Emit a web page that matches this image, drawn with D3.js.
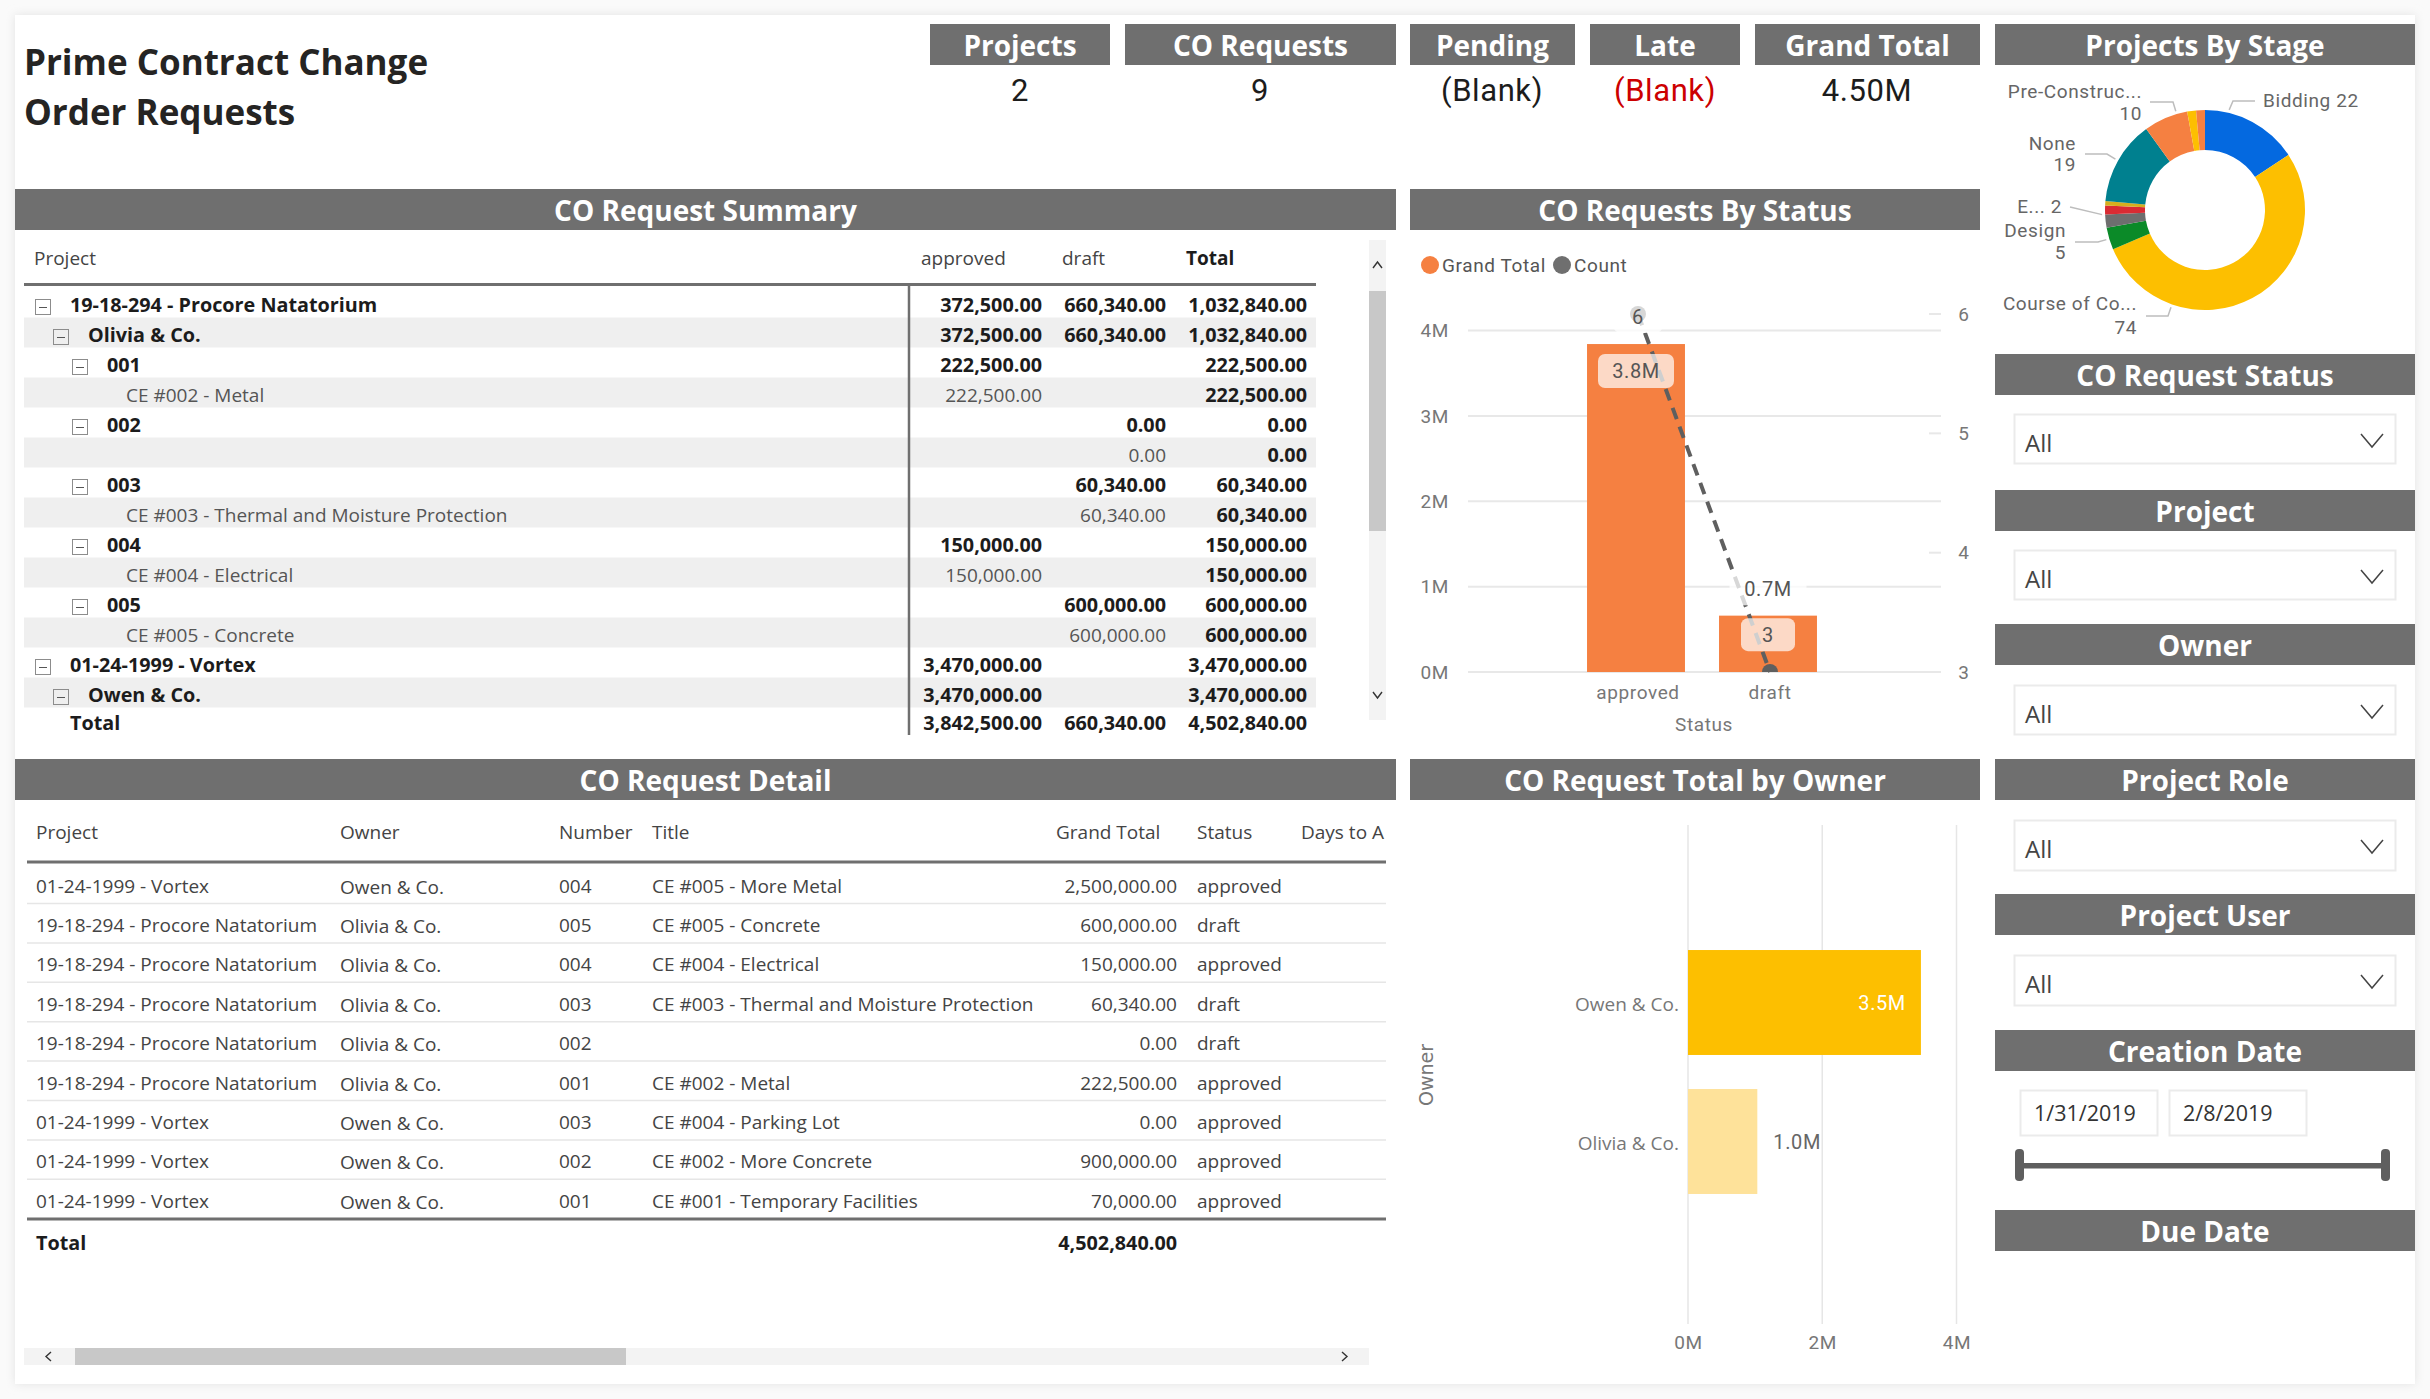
<!DOCTYPE html>
<html>
<head>
<meta charset="utf-8">
<script src="https://cdn.jsdelivr.net/npm/d3@7"></script>
<style>
  html, body { margin: 0; padding: 0; background: #fafafa; }
  svg { display: block; }
  text { font-family: "Open Sans", sans-serif; }
  .din { font-family: Roboto, sans-serif; letter-spacing: 0.6px; }
</style>
</head>
<body>
<svg id="root" width="2430" height="1399"></svg>
<script>
// header strips: [title, x, y, w, h]
const headerStrips = [
  ['Projects', 930, 24, 180, 41],
  ['CO Requests', 1125, 24, 271, 41],
  ['Pending', 1410, 24, 165, 41],
  ['Late', 1590, 24, 150, 41],
  ['Grand Total', 1755, 24, 225, 41],
  ['Projects By Stage', 1995, 24, 420, 41],
  ['CO Request Summary', 15, 189, 1381, 41],
  ['CO Requests By Status', 1410, 189, 570, 41],
  ['CO Request Status', 1995, 354, 420, 41],
  ['Project', 1995, 490, 420, 41],
  ['Owner', 1995, 624, 420, 41],
  ['CO Request Detail', 15, 759, 1381, 41],
  ['CO Request Total by Owner', 1410, 759, 570, 41],
  ['Project Role', 1995, 759, 420, 41],
  ['Project User', 1995, 894, 420, 41],
  ['Creation Date', 1995, 1030, 420, 41],
  ['Due Date', 1995, 1210, 420, 41],
];
const cardLabels = ['2', '9', '(Blank)', '(Blank)', '4.50M'];

// summary matrix
const matrixRows = [
  ['19-18-294 - Procore Natatorium', 0, 372500, 660340, 1032840],
  ['Olivia & Co.', 1, 372500, 660340, 1032840],
  ['001', 2, 222500, null, 222500],
  ['CE #002 - Metal', 3, 222500, null, 222500],
  ['002', 2, null, 0, 0],
  ['', 3, null, 0, 0],
  ['003', 2, null, 60340, 60340],
  ['CE #003 - Thermal and Moisture Protection', 3, null, 60340, 60340],
  ['004', 2, 150000, null, 150000],
  ['CE #004 - Electrical', 3, 150000, null, 150000],
  ['005', 2, null, 600000, 600000],
  ['CE #005 - Concrete', 3, null, 600000, 600000],
  ['01-24-1999 - Vortex', 0, 3470000, null, 3470000],
  ['Owen & Co.', 1, 3470000, null, 3470000],
];
const matrixTotal = ['Total', 3842500, 660340, 4502840];

// detail table
const detailColumns = ['Project', 'Owner', 'Number', 'Title', 'Grand Total', 'Status', 'Days to A'];
const detailRows = [
  ['01-24-1999 - Vortex', 'Owen & Co.', '004', 'CE #005 - More Metal', 2500000, 'approved'],
  ['19-18-294 - Procore Natatorium', 'Olivia & Co.', '005', 'CE #005 - Concrete', 600000, 'draft'],
  ['19-18-294 - Procore Natatorium', 'Olivia & Co.', '004', 'CE #004 - Electrical', 150000, 'approved'],
  ['19-18-294 - Procore Natatorium', 'Olivia & Co.', '003', 'CE #003 - Thermal and Moisture Protection', 60340, 'draft'],
  ['19-18-294 - Procore Natatorium', 'Olivia & Co.', '002', '', 0, 'draft'],
  ['19-18-294 - Procore Natatorium', 'Olivia & Co.', '001', 'CE #002 - Metal', 222500, 'approved'],
  ['01-24-1999 - Vortex', 'Owen & Co.', '003', 'CE #004 - Parking Lot', 0, 'approved'],
  ['01-24-1999 - Vortex', 'Owen & Co.', '002', 'CE #002 - More Concrete', 900000, 'approved'],
  ['01-24-1999 - Vortex', 'Owen & Co.', '001', 'CE #001 - Temporary Facilities', 70000, 'approved'],
];
const detailTotal = 4502840;

// combo chart
const statusNames = ['approved', 'draft'];
const statusTotals = [3842500, 660340];
const statusCounts = [6, 3];

// donut
const stageNames = ['Bidding', 'Course of Construction', 'Design', 'Other 1', 'E...', 'Other 2', 'None', 'Pre-Construction', 'Other 3', 'Other 4'];
const stageValues = [22, 74, 5, 3, 2, 1, 19, 10, 2, 2];
const stageColors = ['#0469e0', '#fdbf00', '#0b8a28', '#6e6e6e', '#d92b33', '#d6ae1e', '#00808f', '#f58041', '#fdbf00', '#f58041'];

// owner bars
const ownerNames = ['Owen & Co.', 'Olivia & Co.'];
const ownerTotals = [3470000, 1032840];
const ownerColors = ['#fdbf00', '#fee29a'];

const slicerBoxes = [414, 550, 685, 820, 955];
const slicerValue = 'All';
const creationDates = ['1/31/2019', '2/8/2019'];

const svg = d3.select('#root');
const money = d3.format(',.2f');
const millions = d => `${(d / 1e6).toFixed(1)}M`;
const GREY = '#6f6f6f';
const INK = '#444';
const BOLD_INK = '#1c1c1c';

// page
const defs = svg.append('defs');
const blur = defs.append('filter').attr('id', 'soft').attr('x', '-2%').attr('y', '-2%').attr('width', '104%').attr('height', '104%');
blur.append('feGaussianBlur').attr('stdDeviation', 5);
svg.append('rect').attr('x', 15).attr('y', 15).attr('width', 2400).attr('height', 1369).attr('fill', '#e2e2e2').attr('filter', 'url(#soft)');
svg.append('rect').attr('x', 15).attr('y', 15).attr('width', 2400).attr('height', 1369).attr('fill', '#fff');

const txt = (g, x, y, s, opts = {}) => g.append('text')
  .attr('x', x).attr('y', y).attr('dy', '0.35em')
  .attr('text-anchor', opts.anchor || 'start')
  .attr('font-size', opts.size || 19)
  .attr('font-weight', opts.weight || 400)
  .attr('fill', opts.fill || INK)
  .attr('class', opts.cls || null)
  .text(s);

// title
txt(svg, 24, 63, 'Prime Contract Change', { size: 35, weight: 700, fill: '#252423' });
txt(svg, 24, 113, 'Order Requests', { size: 35, weight: 700, fill: '#252423' });

// grey header strips
headerStrips.forEach(([title, x, y, w, h]) => {
  svg.append('rect').attr('x', x).attr('y', y).attr('width', w).attr('height', h).attr('fill', GREY);
  txt(svg, x + w / 2, y + h / 2 + 2, title, { anchor: 'middle', size: 28, weight: 700, fill: '#fff' });
});

// KPI cards
[1020, 1260, 1492, 1665, 1867].forEach((x, i) => {
  txt(svg, x, 90, cardLabels[i], { anchor: 'middle', size: 31, cls: 'din', fill: i === 3 ? '#cc0000' : '#1c1c1c' });
});

// --- summary matrix
const matrix = svg.append('g');
const rowY = d3.scaleLinear().domain([0, 1]).range([305, 335]);
const indent = [70, 88, 107, 126];
const colRight = [1042, 1166, 1307];
const BOLD_SIZE = 19.8;

matrixRows.forEach((r, i) => {
  if (i % 2) matrix.append('rect').attr('x', 24).attr('y', rowY(i) - 17.5).attr('width', 1292).attr('height', 30).attr('fill', '#efefef');
});
txt(matrix, 34, 258, 'Project');
txt(matrix, 921, 258, 'approved');
txt(matrix, 1062, 258, 'draft');
txt(matrix, 1186, 258, 'Total', { weight: 700, fill: BOLD_INK });
matrix.append('line').attr('x1', 24).attr('x2', 1316).attr('y1', 284.5).attr('y2', 284.5).attr('stroke', GREY).attr('stroke-width', 3);
matrix.append('line').attr('x1', 909).attr('x2', 909).attr('y1', 285).attr('y2', 735).attr('stroke', GREY).attr('stroke-width', 2.5);

matrixRows.forEach(([name, level, a, d, t], i) => {
  const y = rowY(i);
  const leaf = level === 3;
  const style = leaf
    ? { fill: '#555' }
    : { weight: 700, fill: BOLD_INK, size: BOLD_SIZE };
  if (!leaf) {
    const bx = indent[level] - 35;
    matrix.append('rect').attr('x', bx + 0.5).attr('y', y - 5.5).attr('width', 15).attr('height', 15)
      .attr('fill', 'none').attr('stroke', '#8c8c8c').attr('stroke-width', 1);
    matrix.append('line').attr('x1', bx + 4).attr('x2', bx + 12).attr('y1', y + 2.5).attr('y2', y + 2.5).attr('stroke', '#555');
  }
  txt(matrix, indent[level], y, name, style);
  [a, d, t].forEach((v, j) => {
    if (v === null) return;
    const bold = !leaf || j === 2;
    txt(matrix, colRight[j], y, money(v), { anchor: 'end', weight: bold ? 700 : 400, fill: bold ? BOLD_INK : '#555', size: bold ? BOLD_SIZE : 19 });
  });
});
txt(matrix, 70, 723, matrixTotal[0], { weight: 700, fill: BOLD_INK, size: BOLD_SIZE });
matrixTotal.slice(1).forEach((v, j) => txt(matrix, colRight[j], 723, money(v), { anchor: 'end', weight: 700, fill: BOLD_INK, size: BOLD_SIZE }));

// vertical scrollbar
matrix.append('rect').attr('x', 1369).attr('y', 240).attr('width', 17).attr('height', 480).attr('fill', '#f3f3f3');
matrix.append('rect').attr('x', 1369).attr('y', 291).attr('width', 17).attr('height', 240).attr('fill', '#c8c8c8');
matrix.append('path').attr('d', 'M1373 268l4.5-6l4.5 6').attr('fill', 'none').attr('stroke', '#333').attr('stroke-width', 1.4);
matrix.append('path').attr('d', 'M1373 692l4.5 6l4.5-6').attr('fill', 'none').attr('stroke', '#333').attr('stroke-width', 1.4);

// --- detail table
const detail = svg.append('g');
const detailX = [36, 340, 559, 652, 1177, 1197];
const detailHeadX = [36, 340, 559, 652, 1056, 1197, 1301];
const detailY = d3.scaleLinear().domain([0, 1]).range([886, 925.4]);

const detailClip = defs.append('clipPath').attr('id', 'detail-clip');
detailClip.append('rect').attr('x', 24).attr('y', 810).attr('width', 1362).attr('height', 500);
detail.attr('clip-path', 'url(#detail-clip)');

detailColumns.forEach((c, i) => txt(detail, detailHeadX[i], 832, c));
detail.append('line').attr('x1', 27).attr('x2', 1386).attr('y1', 862).attr('y2', 862).attr('stroke', GREY).attr('stroke-width', 3);
detailRows.forEach((r, i) => {
  r.forEach((v, j) => {
    if (j === 4) txt(detail, detailX[j], detailY(i), money(v), { anchor: 'end' });
    else txt(detail, detailX[j], detailY(i) + (j === 1 ? 1 : 0), v);
  });
  if (i < detailRows.length - 1) {
    detail.append('line').attr('x1', 27).attr('x2', 1386).attr('y1', detailY(i) + 17.5).attr('y2', detailY(i) + 17.5).attr('stroke', '#e6e6e6').attr('stroke-width', 1.5);
  }
});
detail.append('line').attr('x1', 27).attr('x2', 1386).attr('y1', 1219).attr('y2', 1219).attr('stroke', GREY).attr('stroke-width', 3);
txt(detail, 36, 1243, 'Total', { weight: 700, fill: BOLD_INK, size: BOLD_SIZE });
txt(detail, 1177, 1243, money(detailTotal), { anchor: 'end', weight: 700, fill: BOLD_INK, size: BOLD_SIZE });

// horizontal scrollbar
svg.append('rect').attr('x', 24).attr('y', 1348).attr('width', 1345).attr('height', 17).attr('fill', '#f3f3f3');
svg.append('rect').attr('x', 75).attr('y', 1348).attr('width', 551).attr('height', 17).attr('fill', '#c8c8c8');
svg.append('path').attr('d', 'M51 1352l-5 4.5l5 4.5').attr('fill', 'none').attr('stroke', '#333').attr('stroke-width', 1.4);
svg.append('path').attr('d', 'M1342 1352l5 4.5l-5 4.5').attr('fill', 'none').attr('stroke', '#333').attr('stroke-width', 1.4);

// --- combo chart
const combo = svg.append('g');
const xStatus = d3.scaleBand().domain(statusNames).range([1571, 1835]).paddingInner(0.258).paddingOuter(0.129);
const yTotal = d3.scaleLinear().domain([0, 4e6]).range([672, 330.6]);
const yCount = d3.scaleLinear().domain([3, 6]).range([672, 314]);
const statusMid = d => xStatus(d) + xStatus.bandwidth() / 2;

[['Grand Total', 1430, 1442, '#f58041'], ['Count', 1562, 1574, GREY]].forEach(([s, cx, tx, c]) => {
  combo.append('circle').attr('cx', cx).attr('cy', 265).attr('r', 9).attr('fill', c);
  txt(combo, tx, 265, s, { size: 19, fill: '#555', cls: 'din' });
});

const yAxisL = d3.axisLeft(yTotal).tickValues([0, 1e6, 2e6, 3e6, 4e6]).tickFormat(d => `${d / 1e6}M`).tickSize(0).tickPadding(0);
const gL = combo.append('g').attr('transform', 'translate(1449,0)').call(yAxisL);
gL.select('.domain').remove();
gL.selectAll('text').attr('class', 'din').attr('font-size', 19).attr('fill', '#777').attr('font-family', null);

combo.append('g').selectAll('line').data(yTotal.ticks(4)).join('line')
  .attr('x1', 1468).attr('x2', 1941)
  .attr('y1', d => yTotal(d)).attr('y2', d => yTotal(d))
  .attr('stroke', '#e8e8e8').attr('stroke-width', 2);

const yAxisR = d3.axisRight(yCount).tickValues([3, 4, 5, 6]).tickFormat(d3.format('d')).tickSize(0).tickPadding(0);
const gR = combo.append('g').attr('transform', 'translate(1964,0)').call(yAxisR);
gR.select('.domain').remove();
gR.selectAll('text').attr('class', 'din').attr('text-anchor', 'middle').attr('font-size', 19).attr('fill', '#777').attr('font-family', null);
combo.append('g').selectAll('line').data([4, 5, 6]).join('line')
  .attr('x1', 1929).attr('x2', 1941)
  .attr('y1', d => yCount(d)).attr('y2', d => yCount(d))
  .attr('stroke', '#e8e8e8').attr('stroke-width', 2);

combo.append('g').selectAll('rect').data(statusNames).join('rect')
  .attr('x', d => xStatus(d) - 1)
  .attr('width', xStatus.bandwidth())
  .attr('y', (d, i) => yTotal(statusTotals[i]))
  .attr('height', (d, i) => yTotal(0) - yTotal(statusTotals[i]))
  .attr('fill', '#f58041');

const countLine = d3.line().x(d => statusMid(d) + 1).y((d, i) => yCount(statusCounts[i]));
combo.append('path').datum(statusNames).attr('d', countLine)
  .attr('fill', 'none').attr('stroke', '#5f5f5f').attr('stroke-width', 4).attr('stroke-dasharray', '12 8');

const comboClip = defs.append('clipPath').attr('id', 'combo-clip');
comboClip.append('rect').attr('x', 1468).attr('y', 300).attr('width', 473).attr('height', 372);
combo.append('g').attr('clip-path', 'url(#combo-clip)').selectAll('circle').data(statusNames).join('circle')
  .attr('cx', d => statusMid(d) + 1).attr('cy', (d, i) => yCount(statusCounts[i])).attr('r', 8).attr('fill', '#5f5f5f');

const labelBox = (cx, cy, w, h, s, boxFill) => {
  combo.append('rect').attr('x', cx - w / 2).attr('y', cy - h / 2).attr('width', w).attr('height', h).attr('rx', 7)
    .attr('fill', boxFill);
  txt(combo, cx, cy, s, { anchor: 'middle', size: 20, fill: '#555', cls: 'din' });
};
labelBox(statusMid('approved') - 1, yTotal(statusTotals[0]) + 27, 76, 34, millions(statusTotals[0]), 'rgba(255,255,255,0.7)');
labelBox(statusMid('draft') - 1, yTotal(statusTotals[1]) + 19, 54, 33, String(statusCounts[1]), 'rgba(255,255,255,0.7)');
labelBox(statusMid('draft') - 1, yTotal(statusTotals[1]) - 27, 77, 33, millions(statusTotals[1]), 'rgba(255,255,255,0.75)');
labelBox(statusMid('approved') + 1, yCount(statusCounts[0]) + 3, 49, 32, String(statusCounts[0]), 'rgba(255,255,255,0.75)');

statusNames.forEach(d => txt(combo, statusMid(d) + 1, 692, d, { anchor: 'middle', size: 19, fill: '#777', cls: 'din' }));
txt(combo, 1704, 724, 'Status', { anchor: 'middle', size: 19, fill: '#777', cls: 'din' });

// --- donut
const donut = svg.append('g').attr('transform', 'translate(2205,210)');
const pie = d3.pie().sort(null).value(d => d);
const arc = d3.arc().innerRadius(60).outerRadius(100);
const slices = pie(stageValues);
donut.selectAll('path').data(slices).join('path')
  .attr('d', arc).attr('fill', (d, i) => stageColors[i]);

// along = how far through the slice the leader line starts
const stageCallouts = [
  { i: 0, along: 0.24, lines: ['Bidding 22'], anchor: 'start', tx: 2263, ty: [100], elbow: [2233, 101], end: [2255, 101] },
  { i: 1, along: 0.75, lines: ['Course of Co...', '74'], anchor: 'end', tx: 2137, ty: [303, 327], elbow: [2168, 316], end: [2146, 316] },
  { i: 2, along: 0.5, lines: ['Design', '5'], anchor: 'end', tx: 2066, ty: [230, 252], elbow: [2098, 242], end: [2075, 242] },
  { i: 4, along: 0.0, lines: ['E... 2'], anchor: 'end', tx: 2062, ty: [206], elbow: null, end: [2070, 207] },
  { i: 6, along: 0.5, lines: ['None', '19'], anchor: 'end', tx: 2076, ty: [143, 164], elbow: [2107, 154], end: [2085, 154] },
  { i: 7, along: 0.76, lines: ['Pre-Construc...', '10'], anchor: 'end', tx: 2142, ty: [91, 113], elbow: [2173, 102], end: [2150, 102] },
];
stageCallouts.forEach(c => {
  const s = slices[c.i];
  const angle = s.startAngle + (s.endAngle - s.startAngle) * c.along;
  const start = [2205 + 103 * Math.sin(angle), 210 - 103 * Math.cos(angle)];
  const pts = c.elbow ? [start, c.elbow, c.end] : [start, c.end];
  svg.append('path').attr('d', d3.line()(pts)).attr('fill', 'none').attr('stroke', '#bdbdbd').attr('stroke-width', 1.5);
  c.lines.forEach((l, k) => txt(svg, c.tx, c.ty[k], l, { anchor: c.anchor, size: 19, fill: '#666', cls: 'din' }));
});

// --- slicers
slicerBoxes.forEach(y => {
  const h = y < 800 ? 49 : 50;
  svg.append('rect').attr('x', 2014.5).attr('y', y + 0.5).attr('width', 381).attr('height', h).attr('fill', '#fff').attr('stroke', '#ebebeb').attr('stroke-width', 2);
  txt(svg, 2025, y + 30, slicerValue, { size: 24, fill: '#444' });
  svg.append('path').attr('d', `M2361 ${y + 20}l11 13l11 -13`).attr('fill', 'none').attr('stroke', '#444').attr('stroke-width', 1.5);
});
creationDates.forEach((d, i) => {
  const x = 2020 + i * 149;
  svg.append('rect').attr('x', x + 0.5).attr('y', 1090.5).attr('width', 137).attr('height', 45).attr('fill', '#fff').attr('stroke', '#ebebeb').attr('stroke-width', 2);
  txt(svg, x + 14, 1113, d, { size: 21.5, fill: '#333' });
});
svg.append('rect').attr('x', 2019).attr('y', 1163).attr('width', 367).attr('height', 5.5).attr('fill', '#5f5f5f');
[2015, 2381].forEach(x => svg.append('rect').attr('x', x).attr('y', 1149).attr('width', 9).attr('height', 32).attr('rx', 4).attr('fill', '#5f5f5f'));

// --- owner bars
const owner = svg.append('g');
const xOwner = d3.scaleLinear().domain([0, 4e6]).range([1688, 1956.5]);
const yOwner = d3.scaleBand().domain(ownerNames).range([933, 1211]).paddingInner(0.245).paddingOuter(0.1225);
const ownerAxis = d3.axisBottom(xOwner).tickValues([0, 2e6, 4e6]).tickFormat(d => `${d / 1e6}M`).tickSize(0).tickPadding(0);
owner.selectAll('line.grid').data([0, 2e6, 4e6]).join('line').attr('class', 'grid')
  .attr('x1', d => xOwner(d)).attr('x2', d => xOwner(d)).attr('y1', 825).attr('y2', 1324)
  .attr('stroke', '#e6e6e6').attr('stroke-width', 1.5);
const gOwner = owner.append('g').attr('transform', 'translate(0,1335)').call(ownerAxis);
gOwner.select('.domain').remove();
gOwner.selectAll('text').attr('class', 'din').attr('font-size', 19).attr('fill', '#777').attr('font-family', null);

owner.selectAll('rect').data(ownerNames).join('rect')
  .attr('x', xOwner(0)).attr('y', d => yOwner(d)).attr('height', yOwner.bandwidth())
  .attr('width', (d, i) => xOwner(ownerTotals[i]) - xOwner(0))
  .attr('fill', (d, i) => ownerColors[i]);
ownerNames.forEach(d => txt(owner, 1679, yOwner(d) + yOwner.bandwidth() / 2 + 2, d, { anchor: 'end', size: 19, fill: '#777' }));
txt(owner, xOwner(ownerTotals[0]) - 15, yOwner(ownerNames[0]) + yOwner.bandwidth() / 2, millions(ownerTotals[0]), { anchor: 'end', fill: '#fff', cls: 'din', size: 20 });
txt(owner, xOwner(ownerTotals[1]) + 16, yOwner(ownerNames[1]) + yOwner.bandwidth() / 2, millions(ownerTotals[1]), { fill: '#666', cls: 'din', size: 20 });
owner.append('text').attr('transform', 'translate(1426,1075) rotate(-90)').attr('dy', '0.35em').attr('text-anchor', 'middle')
  .attr('font-size', 19).attr('fill', '#777').style('font-family', 'DejaVu Sans').text('Owner');
</script>
</body>
</html>
